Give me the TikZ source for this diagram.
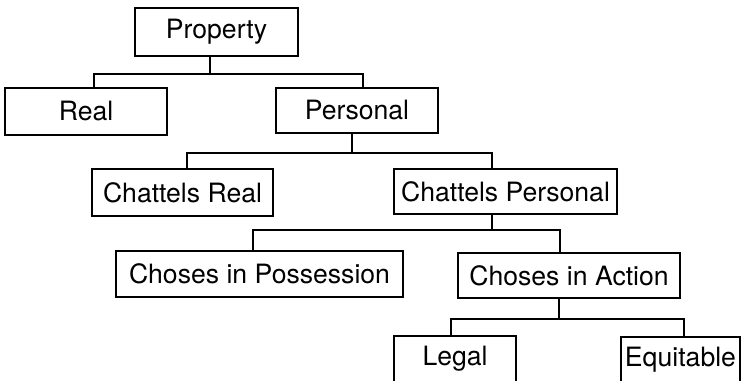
\documentclass[tikz,border=0pt]{standalone}
\usepackage{fontspec}
\setmainfont{TeX Gyre Heros}
\begin{document}
\begin{tikzpicture}[x=1pt,y=-1pt,
  box/.style={draw=black,line width=2.9pt,rectangle,inner sep=0pt,
    font=\fontsize{26.6}{30}\selectfont,text=black},
  conn/.style={draw=black,line width=2.5pt}]
\clip (0,0) rectangle (749,380);
\fill[white] (0,0) rectangle (749,380);
% boxes
\node[box,minimum width=163pt,minimum height=48pt] (prop) at (216.5,32) {Property};
\node[box,minimum width=162pt,minimum height=47pt] (real) at (86,111.5) {Real};
\node[box,minimum width=162pt,minimum height=45pt] (pers) at (357,110.5) {Personal};
\node[box,minimum width=181pt,minimum height=47pt] (creal) at (182.5,192.5) {Chattels Real};
\node[box,minimum width=223pt,minimum height=45pt] (cpers) at (505.5,191.5) {Chattels Personal};
\node[box,minimum width=287pt,minimum height=46pt] (cposs) at (259.5,274) {Choses in Possession};
\node[box,minimum width=222pt,minimum height=45pt] (cact) at (569,275.5) {Choses in Action};
\node[box,minimum width=122pt,minimum height=46pt] (legal) at (455,359) {Legal};
\node[box,minimum width=119pt,minimum height=46pt] (equit) at (680.5,360) {Equitable};
% bus coordinates
\coordinate (m1) at (210,74);  \coordinate (l1) at (94,74);  \coordinate (r1) at (363,74);
\coordinate (m2) at (352,153); \coordinate (l2) at (187,153); \coordinate (r2) at (492,153);
\coordinate (m3) at (492,230); \coordinate (l3) at (253,230); \coordinate (r3) at (560,230);
\coordinate (m4) at (559,319); \coordinate (l4) at (451,319); \coordinate (r4) at (684,319);
% connectors
\draw[conn] (prop.south -| m1) -- (m1);
\draw[conn] (real.north -| l1) -- (l1) -- (r1) -- (pers.north -| r1);
\draw[conn] (pers.south -| m2) -- (m2);
\draw[conn] (creal.north -| l2) -- (l2) -- (r2) -- (cpers.north -| r2);
\draw[conn] (cpers.south -| m3) -- (m3);
\draw[conn] (cposs.north -| l3) -- (l3) -- (r3) -- (cact.north -| r3);
\draw[conn] (cact.south -| m4) -- (m4);
\draw[conn] (legal.north -| l4) -- (l4) -- (r4) -- (equit.north -| r4);
\end{tikzpicture}
\end{document}
